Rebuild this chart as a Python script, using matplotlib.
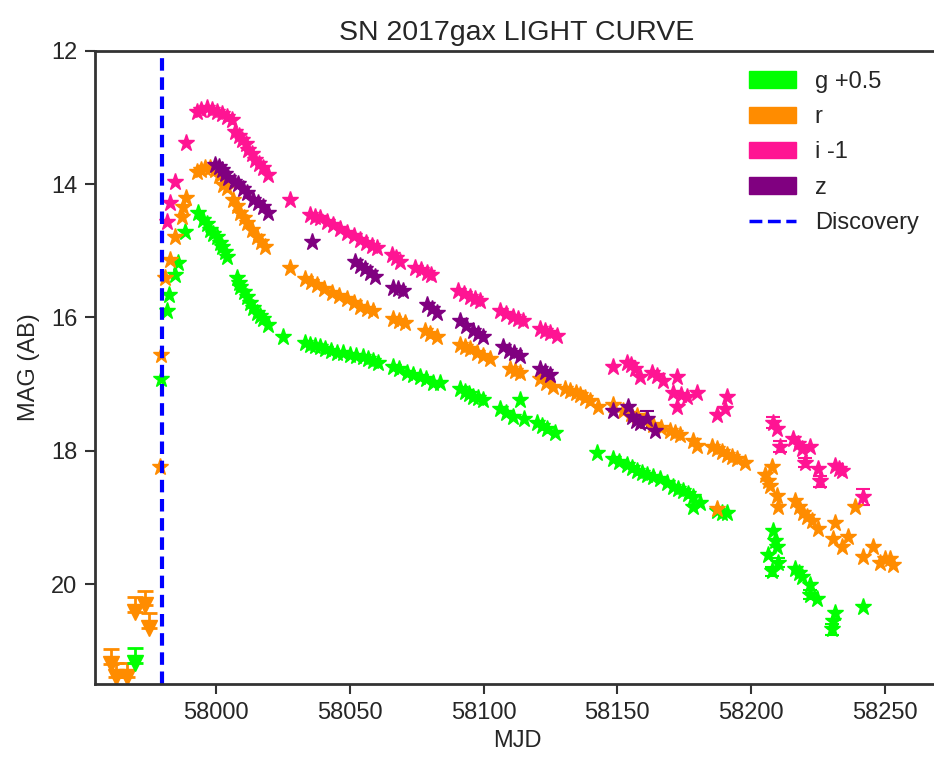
import numpy as np
import matplotlib
matplotlib.use('Agg')
import matplotlib.pyplot as plt
import matplotlib.patches as mpatches
from matplotlib.lines import Line2D

plt.rcParams['font.family'] = ['Liberation Sans', 'DejaVu Sans']

# g band (+0.5)
g_mjd = [57979.4, 57981.7, 57982.4, 57984.7, 57985.8, 57988.4,
         57993.3, 57995.1, 57996.5, 57997.8, 57999.0, 58000.4, 58001.5, 58002.2, 58003.3, 58004.1,
         58007.9, 58008.5, 58009.0, 58010.3, 58011.6, 58012.8, 58013.8, 58015.2, 58016.4, 58017.6, 58019.4,
         58025.0, 58033.3, 58035.2, 58037.0, 58038.9, 58040.8, 58043.0, 58045.2, 58047.5, 58050.1,
         58052.4, 58055.0, 58056.8, 58058.7, 58060.5,
         58066.2, 58068.5, 58071.4, 58073.5, 58076.3, 58078.5, 58081.1, 58083.7,
         58091.2, 58093.0, 58094.7, 58096.1, 58098.0, 58099.8,
         58106.2, 58108.5, 58111.0, 58113.6, 58115.0, 58120.0, 58121.8, 58123.7, 58126.7,
         58142.4, 58148.4, 58150.5, 58153.6, 58155.5, 58157.4, 58159.2, 58161.1, 58163.5, 58166.0,
         58168.5, 58170.8, 58172.8, 58174.6, 58176.5, 58178.3, 58180.9, 58178.3, 58187.3, 58189.0, 58191.0,
         58206.4, 58207.9, 58208.2, 58209.7, 58210.1, 58209.0, 58216.4, 58217.8, 58219.1, 58222.1,
         58222.1, 58224.7, 58230.3, 58230.7, 58231.4, 58241.9]
g_mag = [16.92, 15.91, 15.66, 15.36, 15.18, 14.71,
         14.43, 14.53, 14.60, 14.68, 14.74, 14.79, 14.88, 14.94, 15.02, 15.09,
         15.41, 15.48, 15.54, 15.62, 15.69, 15.78, 15.86, 15.93, 15.98, 16.03, 16.11,
         16.29, 16.38, 16.41, 16.43, 16.45, 16.48, 16.50, 16.53, 16.54, 16.56,
         16.58, 16.60, 16.62, 16.65, 16.68,
         16.75, 16.77, 16.83, 16.86, 16.89, 16.93, 16.98, 16.99,
         17.08, 17.12, 17.15, 17.19, 17.21, 17.24,
         17.38, 17.43, 17.49, 17.24, 17.52, 17.58, 17.63, 17.68, 17.73,
         18.03, 18.13, 18.17, 18.21, 18.26, 18.31, 18.33, 18.36, 18.39, 18.43,
         18.48, 18.54, 18.57, 18.61, 18.65, 18.69, 18.78, 18.85, 18.91, 18.93, 18.93,
         19.56, 19.81, 19.21, 19.44, 19.68, 19.35, 19.78, 19.84, 19.90, 20.01,
         20.16, 20.23, 20.68, 20.56, 20.43, 20.35]

# r band
r_mjd = [57979.1, 57979.4, 57980.9, 57982.8, 57984.7, 57987.3, 57987.7, 57988.8,
         57992.9, 57994.5, 57995.9, 57997.8, 57999.6, 58001.2, 58002.6, 58004.1,
         58006.4, 58007.7, 58009.0, 58010.3, 58011.6, 58013.5, 58015.3, 58016.8, 58018.3,
         58027.7, 58033.3, 58035.5, 58037.8, 58040.5, 58043.4, 58046.0, 58049.0, 58051.5, 58053.8,
         58056.5, 58058.7,
         58066.2, 58068.5, 58070.7, 58078.1, 58080.0, 58082.6,
         58091.2, 58093.0, 58095.0, 58097.5, 58099.8, 58102.4,
         58109.9, 58111.8, 58113.6, 58121.1, 58123.5, 58126.0,
         58130.5, 58132.3, 58134.5, 58136.1, 58138.0, 58139.8, 58142.8,
         58148.4, 58152.0, 58155.0, 58157.4, 58160.5, 58163.4, 58166.5, 58169.7, 58171.5, 58173.5,
         58178.3, 58179.8, 58187.3,
         58185.5, 58187.3, 58189.0, 58191.0, 58193.0, 58194.8, 58197.8,
         58205.2, 58206.5, 58207.1, 58207.9, 58209.7, 58210.1,
         58216.4, 58218.0, 58219.4, 58221.0, 58222.8, 58225.0,
         58230.7, 58231.4, 58234.0, 58236.3, 58238.9,
         58241.9, 58245.7, 58248.2, 58250.0, 58252.0, 58253.1]
r_mag = [18.25, 16.56, 15.41, 15.13, 14.79, 14.49, 14.34, 14.20,
         13.81, 13.78, 13.75, 13.76, 13.78, 13.88, 14.01, 14.05,
         14.23, 14.33, 14.43, 14.50, 14.58, 14.68, 14.79, 14.86, 14.94,
         15.25, 15.43, 15.47, 15.51, 15.57, 15.63, 15.68, 15.73, 15.78, 15.84,
         15.87, 15.91,
         16.03, 16.05, 16.08, 16.21, 16.25, 16.30,
         16.41, 16.44, 16.48, 16.53, 16.58, 16.63,
         16.78, 16.80, 16.83, 16.93, 16.98, 17.04,
         17.07, 17.10, 17.14, 17.16, 17.21, 17.26, 17.35,
         17.31, 17.40, 17.45, 17.48, 17.55, 17.61, 17.66, 17.71, 17.73, 17.76,
         17.86, 17.93, 18.88,
         17.95, 17.98, 18.02, 18.06, 18.10, 18.13, 18.18,
         18.36, 18.45, 18.53, 18.24, 18.68, 18.85,
         18.76, 18.85, 18.93, 18.99, 19.06, 19.18,
         19.33, 19.08, 19.45, 19.29, 18.84,
         19.59, 19.44, 19.68, 19.62, 19.63, 19.71]

# i band (-1)
i_mjd = [57981.7, 57982.8, 57984.7, 57988.8,
         57992.9, 57994.5, 57996.6, 57998.5, 58000.4, 58002.2, 58004.1, 58006.0,
         58007.1, 58008.5, 58009.7, 58011.0, 58012.0, 58013.3, 58014.6, 58016.0, 58017.6, 58019.4,
         58027.7, 58035.1, 58036.8, 58038.9, 58041.3, 58043.7, 58046.3, 58049.0, 58051.5, 58053.8,
         58056.0, 58058.3, 58060.2,
         58065.8, 58067.3, 58068.8, 58074.4, 58076.5, 58078.9, 58080.5,
         58090.5, 58092.8, 58095.0, 58096.8, 58098.7,
         58106.2, 58108.5, 58111.0, 58112.8, 58114.8,
         58121.1, 58123.0, 58124.9, 58127.5,
         58148.4, 58153.6, 58155.0, 58156.6, 58158.5, 58163.0, 58164.9, 58167.1, 58170.8, 58172.3,
         58172.3, 58174.0, 58176.1, 58179.8, 58187.3, 58190.3, 58191.0,
         58208.2, 58209.7, 58210.8, 58215.7, 58217.5, 58219.1, 58220.2, 58222.1, 58225.0, 58225.8,
         58231.4, 58233.0, 58234.0, 58241.9]
i_mag = [14.56, 14.28, 13.96, 13.38,
         12.91, 12.88, 12.86, 12.88, 12.91, 12.95, 12.99, 13.03,
         13.21, 13.27, 13.33, 13.40, 13.48, 13.55, 13.63, 13.69, 13.75, 13.86,
         14.23, 14.46, 14.49, 14.51, 14.56, 14.61, 14.67, 14.73, 14.78, 14.83,
         14.88, 14.93, 14.96,
         15.06, 15.11, 15.16, 15.25, 15.29, 15.33, 15.37,
         15.61, 15.65, 15.69, 15.72, 15.76,
         15.91, 15.95, 15.99, 16.02, 16.06,
         16.18, 16.20, 16.23, 16.28,
         16.75, 16.68, 16.72, 16.78, 16.90, 16.84, 16.88, 16.96, 17.13, 16.90,
         17.34, 17.16, 17.19, 17.13, 17.46, 17.38, 17.19,
         17.58, 17.68, 17.94, 17.83, 17.90, 17.98, 18.18, 17.94, 18.28, 18.46,
         18.23, 18.27, 18.31, 18.69]

# z band
z_mjd = [57999.6, 58001.0, 58002.2, 58003.5, 58004.5, 58006.5, 58008.2, 58010.0, 58011.6,
         58013.8, 58015.8, 58017.6, 58019.4,
         58035.9,
         58052.0, 58053.8, 58055.7, 58057.5, 58059.4,
         58066.2, 58068.0, 58069.9,
         58078.9, 58080.8, 58082.6,
         58091.2, 58093.5, 58096.1, 58098.0, 58099.8,
         58107.3, 58109.5, 58111.5, 58113.6,
         58121.1, 58123.0, 58124.9,
         58148.4, 58154.0, 58155.5, 58157.0, 58158.5, 58161.1, 58164.1]
z_mag = [13.71, 13.74, 13.78, 13.84, 13.90, 13.96, 14.00, 14.07, 14.13,
         14.23, 14.28, 14.34, 14.43,
         14.86,
         15.16, 15.22, 15.28, 15.33, 15.39,
         15.56, 15.58, 15.61,
         15.81, 15.87, 15.93,
         16.06, 16.13, 16.21, 16.25, 16.30,
         16.45, 16.50, 16.54, 16.58,
         16.78, 16.82, 16.86,
         17.41, 17.34, 17.50, 17.55, 17.58, 17.53, 17.71]

# points with visible error bars
err_i_mjd = [58208.2, 58210.8, 58220.2, 58225.8, 58241.9]
err_i_mag = [17.58, 17.94, 18.18, 18.46, 18.69]
err_i_err = [0.08, 0.08, 0.07, 0.08, 0.12]
err_z_mjd = [58161.1]
err_z_mag = [17.53]
err_z_err = [0.13]
err_g_mjd = [58207.9, 58210.1, 58222.1, 58230.3]
err_g_mag = [19.81, 19.68, 20.16, 20.68]
err_g_err = [0.07, 0.07, 0.07, 0.08]

# non-detection upper limits
r_lim_mjd = [57960.5, 57962.5, 57966.5, 57969.5, 57973.5, 57975.0]
r_lim_mag = [21.20, 21.40, 21.40, 20.42, 20.32, 20.66]
g_lim_mjd = [57969.5]
g_lim_mag = [21.18]

discovery_mjd = 57979.6

colors = {'g': '#00ff00', 'r': '#ff8c00', 'i': '#ff1493', 'z': '#800080'}

fig = plt.figure(figsize=(9.34, 7.6), dpi=100)
ax = fig.add_axes([0.102, 0.1, 0.903, 0.833])

ax.errorbar(err_g_mjd, err_g_mag, yerr=err_g_err, fmt='none', ecolor=colors['g'], capsize=5, elinewidth=1.5, capthick=1.5)
ax.errorbar(err_i_mjd, err_i_mag, yerr=err_i_err, fmt='none', ecolor=colors['i'], capsize=5, elinewidth=1.5, capthick=1.5)
ax.errorbar(err_z_mjd, err_z_mag, yerr=err_z_err, fmt='none', ecolor=colors['z'], capsize=5, elinewidth=1.5, capthick=1.5)

ax.plot(g_mjd, g_mag, '*', color=colors['g'], ms=12.5)
ax.plot(r_mjd, r_mag, '*', color=colors['r'], ms=12.5)
ax.plot(i_mjd, i_mag, '*', color=colors['i'], ms=12.5)
ax.plot(z_mjd, z_mag, '*', color=colors['z'], ms=12.5)

ax.errorbar(r_lim_mjd, r_lim_mag, yerr=[[0.22] * len(r_lim_mjd), [0] * len(r_lim_mjd)],
            fmt='v', color=colors['r'], ms=11, capsize=6, elinewidth=2, capthick=2)
ax.errorbar(g_lim_mjd, g_lim_mag, yerr=[[0.22], [0]],
            fmt='v', color=colors['g'], ms=11, capsize=6, elinewidth=2, capthick=2)

ax.axvline(discovery_mjd, color='blue', ls='--', lw=3, dashes=(3, 1.6))

ax.set_xlim(57954.8, 58270.2)
ax.set_ylim(21.5, 12)
ax.set_yticks([12, 14, 16, 18, 20])
ax.set_xticks([58000, 58050, 58100, 58150, 58200, 58250])

for s in ax.spines.values():
    s.set_linewidth(2)
    s.set_color('#333333')
ax.tick_params(direction='out', length=7, width=1.5, color='#333333', labelsize=17, labelcolor='#262626', pad=6)

ax.set_xlabel('MJD', fontsize=17, color='#262626')
ax.set_ylabel('MAG (AB)', fontsize=17, color='#262626', labelpad=8)
ax.set_title('SN 2017gax LIGHT CURVE', fontsize=20.5, color='#262626', pad=8)

handles = [mpatches.Patch(color=colors['g'], label='g +0.5'),
           mpatches.Patch(color=colors['r'], label='r'),
           mpatches.Patch(color=colors['i'], label='i -1'),
           mpatches.Patch(color=colors['z'], label='z'),
           Line2D([], [], color='blue', ls='--', lw=2.5, label='Discovery')]
leg = ax.legend(handles=handles, loc='upper right', frameon=False, fontsize=17,
                handlelength=2.0, labelspacing=0.56, borderaxespad=0.45)
for t in leg.get_texts():
    t.set_color('#262626')

fig.savefig('out.png', dpi=100)
